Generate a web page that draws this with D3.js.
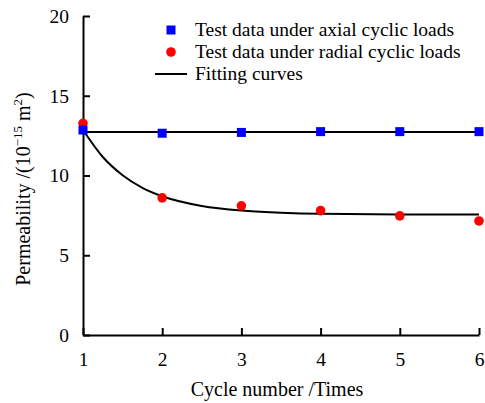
<!DOCTYPE html>
<html>
<head>
<meta charset="utf-8">
<script src="https://cdn.jsdelivr.net/npm/d3@7"></script>
<style>
  body { margin: 0; background: #fff; }
</style>
</head>
<body>
<div id="chart"></div>
<script>
// data
var cycles = [1, 2, 3, 4, 5, 6];
var axial = [12.85, 12.65, 12.7, 12.75, 12.75, 12.75];
var radial = [13.27, 8.6, 8.1, 7.8, 7.47, 7.15];
var axialFitX = [1, 6];
var axialFitY = [12.73, 12.73];
var radialFitX = [1, 1.25, 1.5, 1.75, 2, 2.5, 3, 3.5, 4, 5, 6];
var radialFitY = [12.85, 11.16, 10.02, 9.23, 8.7, 8.09, 7.8, 7.67, 7.6, 7.56, 7.55];
var yTicks = [0, 5, 10, 15, 20];
var legendLabels = ["Test data under axial cyclic loads", "Test data under radial cyclic loads", "Fitting curves"];

var width = 485, height = 403;
var margin = {left: 83, right: 5, top: 16, bottom: 68};
var font = "Liberation Serif";
var fs = 19.5;

var svg = d3.select("#chart")
    .append("svg")
    .attr("width", width)
    .attr("height", height)
    .attr("font-family", font);

var x = d3.scaleLinear()
    .domain([1, 6])
    .range([margin.left, width - margin.right - 1]);
var y = d3.scaleLinear()
    .domain([0, 20])
    .range([height - margin.bottom, margin.top]);

// axes, ticks pointing inward
var xAxis = svg.append("g")
    .attr("transform", "translate(0," + y(0) + ")")
    .call(d3.axisBottom(x).tickValues(cycles).tickFormat(d3.format("d"))
        .tickSizeInner(-7).tickSizeOuter(0).tickPadding(17));
var yAxis = svg.append("g")
    .attr("transform", "translate(" + x(1) + ",0)")
    .call(d3.axisLeft(y).tickValues(yTicks).tickFormat(d3.format("d"))
        .tickSizeInner(-7).tickSizeOuter(0).tickPadding(14));

[xAxis, yAxis].forEach(function(g) {
    g.attr("font-family", font).attr("font-size", fs);
    g.select(".domain").attr("stroke", "#000").attr("stroke-width", 2);
    g.selectAll(".tick line").attr("stroke", "#000").attr("stroke-width", 2);
    g.selectAll(".tick text")
        .attr("font-family", font)
        .attr("font-size", fs)
        .attr("fill", "#000");
});
xAxis.selectAll(".tick text").attr("dy", "0.71em");

// fitting curves
var line = d3.line()
    .x(function(d) { return x(d[0]); })
    .y(function(d) { return y(d[1]); })
    .curve(d3.curveMonotoneX);

svg.append("path")
    .datum(d3.zip(axialFitX, axialFitY))
    .attr("d", line)
    .attr("fill", "none")
    .attr("stroke", "#000")
    .attr("stroke-width", 2);
svg.append("path")
    .datum(d3.zip(radialFitX, radialFitY))
    .attr("d", line)
    .attr("fill", "none")
    .attr("stroke", "#000")
    .attr("stroke-width", 2);

// radial points
svg.selectAll(".radial")
    .data(d3.zip(cycles, radial))
    .enter()
    .append("circle")
    .attr("class", "radial")
    .attr("cx", function(d) { return x(d[0]); })
    .attr("cy", function(d) { return y(d[1]); })
    .attr("r", 4.8)
    .attr("fill", "#ff0000");

// axial points
var sq = 9;
svg.selectAll(".axial")
    .data(d3.zip(cycles, axial))
    .enter()
    .append("rect")
    .attr("class", "axial")
    .attr("x", function(d) { return x(d[0]) - sq / 2; })
    .attr("y", function(d) { return y(d[1]) - sq / 2; })
    .attr("width", sq)
    .attr("height", sq)
    .attr("fill", "#0000ff");

// legend
var lg = svg.append("g").attr("transform", "translate(171,30)");
lg.append("rect")
    .attr("x", -sq / 2).attr("y", -sq / 2)
    .attr("width", sq).attr("height", sq)
    .attr("fill", "#0000ff");
lg.append("circle")
    .attr("cx", 0).attr("cy", 22)
    .attr("r", 4.8)
    .attr("fill", "#ff0000");
lg.append("line")
    .attr("x1", -16).attr("x2", 16)
    .attr("y1", 44).attr("y2", 44)
    .attr("stroke", "#000")
    .attr("stroke-width", 2);
lg.selectAll("text.lab")
    .data(legendLabels)
    .enter()
    .append("text")
    .attr("class", "lab")
    .attr("x", 24)
    .attr("y", function(d, i) { return i * 21.7; })
    .attr("dy", "0.33em")
    .attr("font-family", font)
    .attr("font-size", fs)
    .text(function(d) { return d; });

// axis titles
svg.append("text")
    .attr("x", 277)
    .attr("y", 396)
    .attr("text-anchor", "middle")
    .attr("font-family", font)
    .attr("font-size", 20)
    .text("Cycle number /Times");

var yt = svg.append("text")
    .attr("transform", "translate(30,189) rotate(-90)")
    .attr("text-anchor", "middle")
    .attr("font-family", font)
    .attr("font-size", 20);
yt.append("tspan").text("Permeability /(10");
yt.append("tspan").attr("dy", -8).attr("font-size", 13).text("\u221215");
yt.append("tspan").attr("dy", 8).text(" m");
yt.append("tspan").attr("dy", -8).attr("font-size", 13).text("2");
yt.append("tspan").attr("dy", 8).text(")");
</script>
</body>
</html>
